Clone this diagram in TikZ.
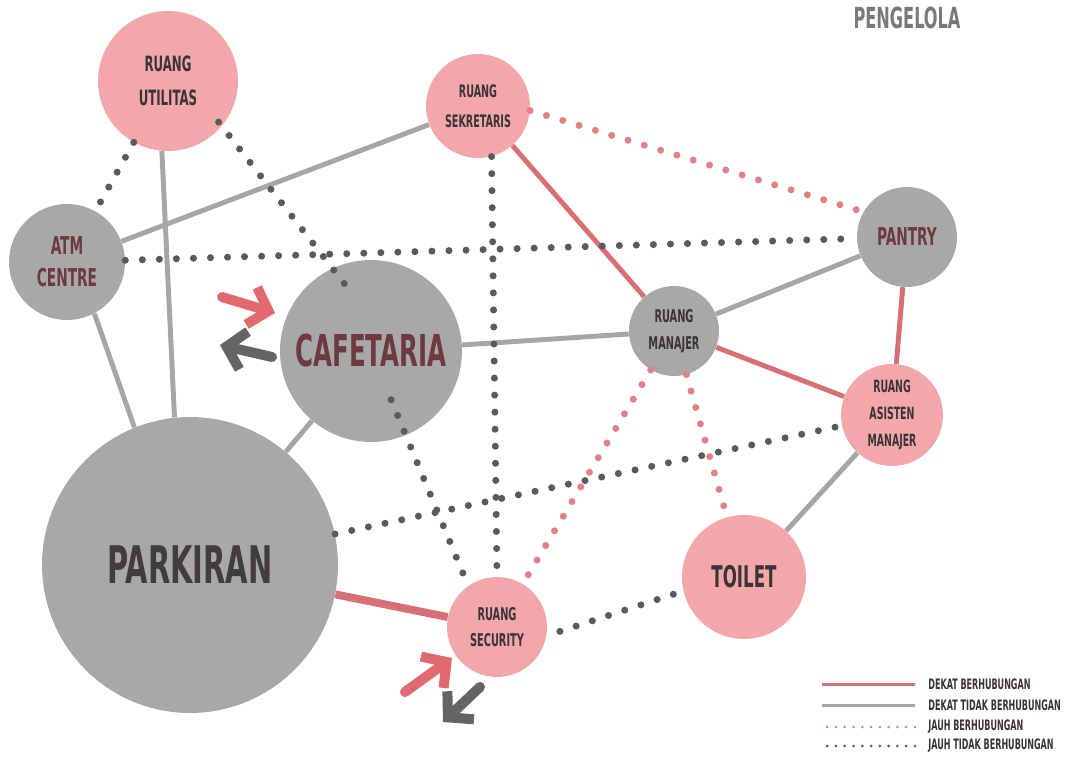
\documentclass[tikz,border=0pt]{standalone}
\usepackage{fontspec}
\newfontfamily\bebas{DejaVu Sans Condensed}[FakeStretch=0.62]
\usetikzlibrary{arrows.meta}

\definecolor{nodepink}{RGB}{242,167,170}
\definecolor{nodegray}{RGB}{168,168,168}
\definecolor{linepink}{RGB}{214,112,118}
\definecolor{linegray}{RGB}{166,166,166}
\definecolor{dotgray}{RGB}{90,90,90}
\definecolor{dotpink}{RGB}{226,128,136}
\definecolor{txtmaroon}{RGB}{110,58,66}
\definecolor{txtdark}{RGB}{58,52,54}
\definecolor{arrowpink}{RGB}{224,106,112}
\definecolor{arrowgray}{RGB}{100,100,100}

\tikzset{
  pinknode/.style={circle, fill=nodepink, inner sep=0pt, text=txtdark, align=center},
  graynode/.style={circle, fill=nodegray, inner sep=0pt, text=txtmaroon, align=center},
  dekat/.style={draw=linepink, line width=2.8pt},
  dekattidak/.style={draw=linegray, line width=2.8pt},
  jauh/.style={draw=dotpink, line width=4pt, line cap=round, dash pattern=on 0pt off 9.7pt},
  jauhtidak/.style={draw=dotgray, line width=4pt, line cap=round, dash pattern=on 0pt off 9.7pt},
  legendtxt/.style={anchor=west, inner sep=0pt, text=txtdark, font=\bebas\bfseries\fontsize{8.2}{9}\selectfont},
  lgdekat/.style={dekat, line width=1.7pt},
  lgdekattidak/.style={dekattidak, line width=1.7pt},
  lgjauh/.style={jauh, line width=1.7pt, dash pattern=on 0pt off 5pt},
  lgjauhtidak/.style={jauhtidak, line width=1.7pt, dash pattern=on 0pt off 5pt},
  flow/.style={line width=5.7pt, line cap=round, line join=round, -{Straight Barb[length=10pt,width=22pt]}}
}

\newcommand{\lbl}[2]{\bebas\bfseries\fontsize{#1}{#2}\selectfont}

\begin{document}
\begin{tikzpicture}[x=0.02cm, y=-0.02cm]
\useasboundingbox (0,0) rectangle (1066,758);

% ruang-ruang
\node (util) [pinknode, minimum size=2.8cm, font=\lbl{12}{19.3}] at (168,81) {RUANG\\UTILITAS};
\node (sekr) [pinknode, minimum size=2.08cm, font=\lbl{9.8}{17}] at (478,106) {RUANG\\SEKRETARIS};
\node (atm) [graynode, minimum size=2.32cm, font=\lbl{14}{18.2}] at (67,262) {ATM\\CENTRE};
\node (caf) [graynode, minimum size=3.64cm, font=\lbl{25}{30}] at (371,351) {CAFETARIA};
\node (pantry) [graynode, minimum size=2.0cm, font=\lbl{14}{16}] at (907,237) {PANTRY};
\node (man) [graynode, minimum size=1.8cm, text=txtdark, font=\lbl{10}{15.3}] at (674,331) {RUANG\\MANAJER};
\node (asist) [pinknode, minimum size=2.04cm, font=\lbl{9.6}{15.3}] at (892,415) {RUANG\\ASISTEN\\MANAJER};
\node (park) [graynode, minimum size=5.92cm, text=txtdark!90!gray, font=\lbl{29.5}{34}] at (190,565) {PARKIRAN};
\node (toilet) [pinknode, minimum size=2.48cm, font=\lbl{17}{20}] at (744,577) {TOILET};
\node (sec) [pinknode, minimum size=2.0cm, font=\lbl{10}{14.8}] at (497,627) {RUANG\\SECURITY};

\node (title) [text=gray!95!black, font=\lbl{16.5}{18}] at (907,18) {PENGELOLA};

% dekat tidak berhubungan
\draw [dekattidak] (atm) -- (sekr);
\draw [dekattidak] (util.265) -- (park.96);
\draw [dekattidak] (atm.-62) -- (park.112);
\draw [dekattidak] (caf) -- (park);
\draw [dekattidak] (caf) -- (man);
\draw [dekattidak] (man) -- (pantry);
\draw [dekattidak] (asist) -- (toilet);

% dekat berhubungan
\draw [dekat] (sekr) -- (man);
\draw [dekat] (man) -- (asist);
\draw [dekat] (pantry) -- (asist);
\draw [dekat, line width=4.5pt] (park) -- (sec);

% jauh berhubungan
\draw [jauh] (sekr.-5) -- (pantry.150);
\draw [jauh] (man) -- (sec);
\draw [jauh] (man) -- (toilet);

% jauh tidak berhubungan
\draw [jauhtidak] (util) -- (atm);
\draw [jauhtidak, shorten <=-3pt, shorten >=-12.5pt] (util.-40) -- (caf.115);
\draw [jauhtidak] (atm) -- (pantry);
\draw [jauhtidak] (sekr.-75) -- (sec.90);
\draw [jauhtidak, shorten <=30pt] (caf.center) -- (sec.125);
\draw [jauhtidak] (park) -- (asist);
\draw [jauhtidak, shorten <=8pt] (sec.-10) -- (toilet.193);

% sirkulasi
\draw [flow, arrowpink] (222,297) -- (275,313);
\draw [flow, arrowgray] (272,357) -- (220,345);
\draw [flow, arrowpink] (405,692) -- (452,658);
\draw [flow, arrowgray] (480,687) -- (443,722);

% legenda
\foreach \y/\sty/\txt in {684/lgdekat/DEKAT BERHUBUNGAN, 705/lgdekattidak/DEKAT TIDAK BERHUBUNGAN, 727/lgjauh/JAUH BERHUBUNGAN, 746/lgjauhtidak/JAUH TIDAK BERHUBUNGAN}
{
\node (lg) [legendtxt] at (928,\y) {\txt};
\draw [\sty] (lg.west) ++(-13,0) -- ++(-93,0);
}

\end{tikzpicture}
\end{document}
